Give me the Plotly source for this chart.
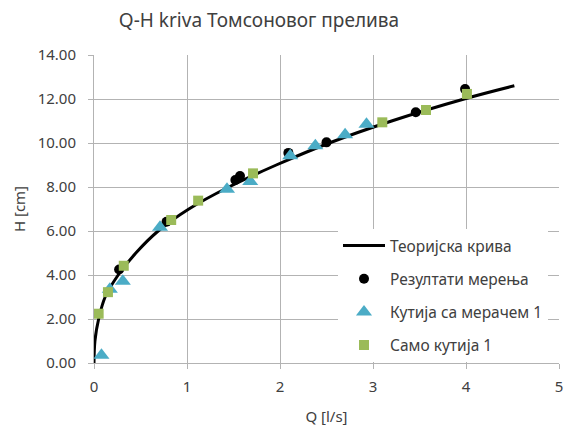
import plotly.graph_objects as go

# Theoretical curve
curve_H = [0, 1, 2, 3, 4, 5, 6, 7, 8, 9, 10, 11, 12, 12.6]
curve_Q = [0.0, 0.01, 0.05, 0.12, 0.26, 0.45, 0.69, 1.02, 1.45, 1.96, 2.53, 3.20, 3.98, 4.52]

# Measurement results (black circles)
meas_Q = [0.27, 0.78, 1.52, 1.57, 2.09, 2.50, 3.46, 3.99]
meas_H = [4.25, 6.42, 8.32, 8.50, 9.55, 10.03, 11.40, 12.45]

# Box with meter 1 (triangles)
box_meter_Q = [0.08, 0.17, 0.31, 0.71, 1.43, 1.68, 2.11, 2.38, 2.70, 2.93]
box_meter_H = [0.35, 3.35, 3.72, 6.17, 7.90, 8.25, 9.42, 9.88, 10.38, 10.85]

# Box only 1 (squares)
box_only_Q = [0.05, 0.15, 0.32, 0.83, 1.12, 1.71, 3.10, 3.57, 4.01]
box_only_H = [2.24, 3.22, 4.42, 6.50, 7.38, 8.62, 10.94, 11.50, 12.23]

FONT = "Noto Sans"
TXT = "#404040"
GRID = "#b3b3b3"

fig = go.Figure()
fig.add_trace(go.Scatter(x=curve_Q, y=curve_H, mode="lines", name="Теоријска крива",
                         line=dict(color="black", width=3, shape="spline"),
                         legendgroup="a"))
fig.add_trace(go.Scatter(x=meas_Q, y=meas_H, mode="markers", name="Резултати мерења",
                         marker=dict(symbol="circle", color="black", size=10),
                         legendgroup="b"))
fig.add_trace(go.Scatter(x=box_meter_Q, y=box_meter_H, mode="markers", name="Кутија са мерачем 1",
                         marker=dict(symbol="triangle-up", color="#4BACC6", size=14),
                         legendgroup="c"))
fig.add_trace(go.Scatter(x=box_only_Q, y=box_only_H, mode="markers", name="Само кутија 1",
                         marker=dict(symbol="square", color="#9BBB59", size=10),
                         legendgroup="d"))

fig.update_layout(
    width=573, height=428,
    margin=dict(l=94, r=14, t=55, b=65, autoexpand=False),
    paper_bgcolor="white", plot_bgcolor="white",
    font=dict(family=FONT, color=TXT, size=15),
    title=dict(text="Q-H kriva Томсоновог прелива", x=259/573, xref="container", xanchor="center",
               y=1-20/428, yref="container", yanchor="middle",
               font=dict(family=FONT, size=19, color=TXT)),
    showlegend=True,
    legend=dict(x=(338-94)/(559-94), y=(363-229)/(363-55), xanchor="left", yanchor="top",
                bgcolor="white", borderwidth=0, tracegroupgap=10, itemwidth=42,
                font=dict(family=FONT, size=15.5, color=TXT)),
    xaxis=dict(range=[0, 5], dtick=1, tick0=0, showgrid=True, gridcolor=GRID, gridwidth=1,
               showline=True, linecolor=GRID, linewidth=1, ticks="outside", ticklen=5,
               tickcolor=GRID, zeroline=False, ticklabelstandoff=5, automargin=False,
               tickfont=dict(family=FONT, size=15, color=TXT),
               title=dict(text="Q [l/s]", standoff=16, font=dict(family=FONT, size=15, color=TXT))),
    yaxis=dict(range=[0, 14], dtick=2, tick0=0, tickformat=".2f", showgrid=True, gridcolor=GRID,
               gridwidth=1, showline=True, linecolor=GRID, linewidth=1, ticks="outside", ticklen=5,
               tickcolor=GRID, zeroline=False, ticklabelstandoff=9, automargin=False,
               tickfont=dict(family=FONT, size=15, color=TXT),
               title=dict(text="H [cm]", standoff=8, font=dict(family=FONT, size=15, color=TXT))),
)

fig.write_html("out.html")
